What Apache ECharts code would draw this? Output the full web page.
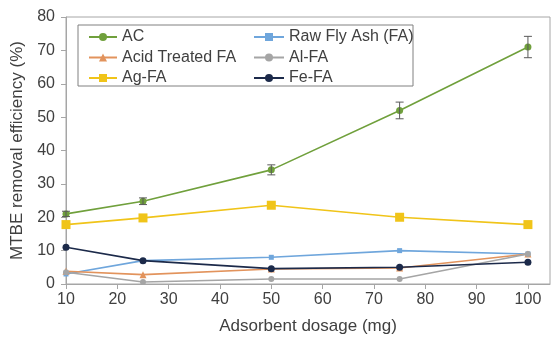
<!DOCTYPE html>
<html>
<head>
<meta charset="utf-8">
<script src="https://cdn.jsdelivr.net/npm/echarts@6/dist/echarts.min.js"></script>
<style>
  html, body { margin: 0; padding: 0; background: #fff; }
  #chart { width: 553px; height: 340px; }
</style>
</head>
<body>
<div id="chart"></div>
<script>
const dosage = [10, 25, 50, 75, 100];
const xTicks = [10, 20, 30, 40, 50, 60, 70, 80, 90, 100];

const acValues = [21, 24.8, 34.2, 52, 71];
const acErrors = [0.8, 1, 1.5, 2.5, 3.2];
const rawFaValues = [3, 7, 8, 10, 9];
const acidFaValues = [3.8, 2.8, 4.5, 4.8, 9];
const alFaValues = [3.5, 0.6, 1.5, 1.5, 9];
const agFaValues = [17.8, 19.8, 23.6, 20, 17.8];
const feFaValues = [11, 7, 4.6, 5, 6.5];

const pairs = vals => dosage.map((d, i) => [d, vals[i]]);

const chart = echarts.init(document.getElementById('chart'));

function line(name, vals, color, symbol, size) {
  return {
    name: name,
    type: 'line',
    data: pairs(vals),
    symbol: symbol,
    symbolSize: size,
    lineStyle: { color: color, width: 1.6 },
    itemStyle: { color: color },
    z: 3
  };
}

const legendText = { fontSize: 16, color: '#404040' };

const option = {
  animation: false,
  textStyle: { fontFamily: 'Liberation Sans' },
  grid: {
    left: 66, right: 3, top: 17, bottom: 53,
    show: true, borderColor: '#a6a6a6', borderWidth: 1
  },
  legend: [
    {
      left: 83, top: 24, orient: 'vertical', itemGap: 4.5,
      itemWidth: 28, itemHeight: 10,
      textStyle: legendText,
      data: ['AC', 'Acid Treated FA', 'Ag-FA']
    },
    {
      left: 248, top: 24, orient: 'vertical', itemGap: 4.5,
      itemWidth: 30, itemHeight: 10,
      textStyle: legendText,
      data: ['Raw Fly Ash (FA)', 'Al-FA', 'Fe-FA']
    }
  ],
  graphic: [{
    type: 'rect',
    shape: { x: 78, y: 25, width: 335, height: 61 },
    style: { fill: 'none', stroke: '#808080', lineWidth: 1 }
  }],
  xAxis: {
    type: 'value', min: 10, max: 104.3,
    name: 'Adsorbent dosage (mg)', nameLocation: 'middle', nameGap: 34,
    nameTextStyle: { fontSize: 17, color: '#404040' },
    axisLine: { lineStyle: { color: '#a6a6a6' } },
    axisTick: { show: true, customValues: xTicks, lineStyle: { color: '#a6a6a6' } },
    axisLabel: { customValues: xTicks, fontSize: 16, color: '#404040', margin: 8 },
    splitLine: { show: false }
  },
  yAxis: {
    type: 'value', min: 0, max: 80, interval: 10,
    name: 'MTBE removal efficiency (%)', nameLocation: 'middle', nameGap: 34,
    nameTextStyle: { fontSize: 17, color: '#404040' },
    axisLine: { show: true, lineStyle: { color: '#a6a6a6' } },
    axisTick: { show: true, lineStyle: { color: '#a6a6a6' } },
    axisLabel: { fontSize: 16, color: '#404040', margin: 11 },
    splitLine: { show: false }
  },
  series: [
    line('AC', acValues, '#70a03c', 'circle', 7),
    line('Raw Fly Ash (FA)', rawFaValues, '#6fa6dc', 'rect', 5),
    line('Acid Treated FA', acidFaValues, '#e2935c', 'triangle', 7),
    line('Al-FA', alFaValues, '#a5a5a5', 'circle', 6),
    line('Ag-FA', agFaValues, '#f0c419', 'rect', 9),
    line('Fe-FA', feFaValues, '#1c2a4a', 'circle', 7),
    {
      type: 'custom',
      name: 'AC error',
      data: dosage.map((d, i) => [d, acValues[i] - acErrors[i], acValues[i] + acErrors[i]]),
      z: 4,
      renderItem: function (params, api) {
        const lo = api.coord([api.value(0), api.value(1)]);
        const hi = api.coord([api.value(0), api.value(2)]);
        const w = 4;
        const st = { stroke: '#595959', lineWidth: 1 };
        return {
          type: 'group',
          children: [
            { type: 'line', shape: { x1: lo[0], y1: lo[1], x2: hi[0], y2: hi[1] }, style: st },
            { type: 'line', shape: { x1: lo[0] - w, y1: lo[1], x2: lo[0] + w, y2: lo[1] }, style: st },
            { type: 'line', shape: { x1: hi[0] - w, y1: hi[1], x2: hi[0] + w, y2: hi[1] }, style: st }
          ]
        };
      }
    }
  ]
};

chart.setOption(option);
</script>
</body>
</html>
